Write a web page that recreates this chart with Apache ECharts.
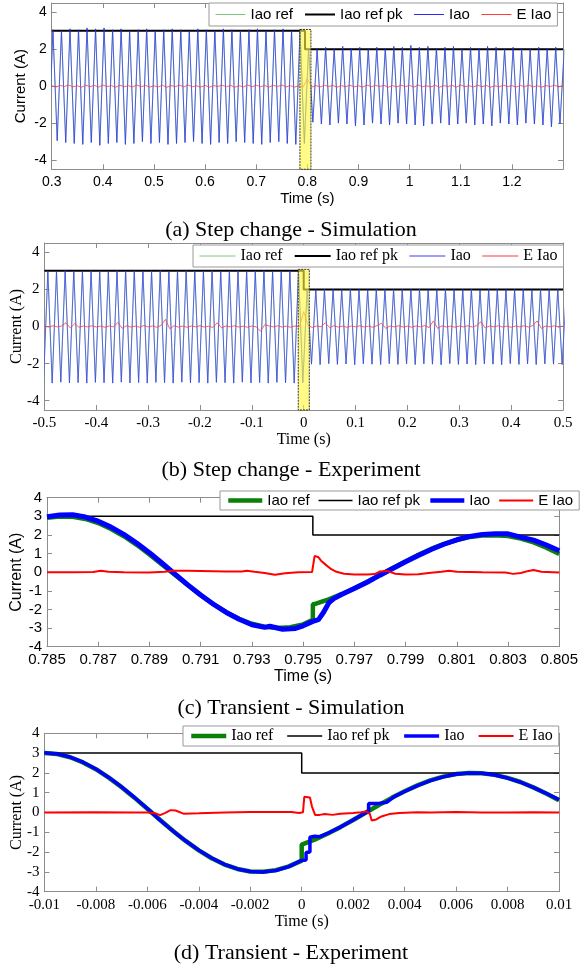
<!DOCTYPE html>
<html>
<head>
<meta charset="utf-8">
<script src="https://cdn.jsdelivr.net/npm/echarts@6/dist/echarts.min.js"></script>
<style>
html, body { margin: 0; padding: 0; background: #fff; }
#chart { width: 581px; height: 965px; }
</style>
</head>
<body>
<div id="chart"></div>
<script>
// half period of the 60 Hz current
var HALF = 1 / 120;

// ---- (a) Step change - Simulation ----
var aT0 = 0.2941;              // first trough, peaks follow half a period later
var aTroughs = [
  -3.00, -2.95, -3.05, -3.10, -3.15, -3.05, -3.20, -3.10, -3.05, -3.15,
  -3.10, -3.00, -3.10, -3.05, -3.15, -3.10, -3.05, -3.00, -3.10, -3.15,
  -3.05, -3.10, -3.00, -3.05, -3.10, -3.15, -3.05, -3.00, -3.10, -3.15,
  -3.10,
  -1.95, -2.05, -2.10, -2.00, -2.05, -2.15, -2.10, -2.00, -2.05, -2.10,
  -2.00, -2.05, -2.10, -2.15, -2.05, -2.00, -2.10, -2.05, -2.00, -2.10,
  -2.05, -2.15, -2.00, -2.05, -2.10, -2.00, -2.05, -2.10, -2.20, -2.05
];
var aPeaks = [
  3.05, 3.00, 3.10, 3.05, 3.15, 3.10, 3.15, 3.05, 3.10, 3.00,
  3.05, 3.10, 3.00, 3.05, 3.10, 3.05, 3.00, 3.10, 3.05, 3.00,
  3.10, 3.05, 3.00, 3.05, 3.10, 3.00, 3.05, 3.10, 3.00, 3.05,
  2.05, 2.00, 2.10, 2.00, 2.15, 2.05, 2.10, 2.00, 2.10, 2.05,
  2.15, 2.10, 2.20, 2.10, 2.15, 2.05, 2.10, 2.15, 2.00, 2.10,
  2.05, 2.15, 2.10, 2.00, 2.10, 2.05, 2.00, 2.10, 2.05, 2.10,
  2.00
];
var aErrT0 = 0.3;
var aErr = [
  0.03, -0.05, 0.04, -0.02, 0.06, -0.04, 0.02, -0.06, 0.05, -0.03,
  0.04, -0.05, 0.06, -0.02, 0.03, -0.06, 0.05, -0.03, 0.02, -0.04,
  0.06, -0.03, 0.04, -0.05, 0.02, -0.04, 0.05, -0.06, 0.03, -0.02,
  0.05, -0.04, 0.06, -0.03, 0.02, -0.05, 0.04, -0.06, 0.03, -0.02,
  0.05, -0.03, 0.04, -0.06, 0.02, -0.04, 0.06, -0.03, 0.05, -0.02,
  0.03, -0.05, 0.04, -0.02, 0.06, -0.04, 0.03, -0.05, 0.02, -0.06,
  0.40, -0.05, 0.03, -0.04, 0.05, -0.02, 0.04, -0.06, 0.03, -0.03,
  0.05, -0.04, 0.02, -0.05, 0.06, -0.03, 0.04, -0.02, 0.05, -0.06,
  0.03, -0.04, 0.05, -0.02, 0.04, -0.05, 0.06, -0.03, 0.02, -0.04,
  0.05, -0.06, 0.03, -0.02, 0.04, -0.05, 0.06, -0.03, 0.02, -0.04,
  0.05, -0.03, 0.04, -0.06, 0.02, -0.04, 0.05, -0.02, 0.03, -0.05,
  0.04, -0.03, 0.06, -0.04, 0.02, -0.05, 0.03, -0.02, 0.05, -0.04, 0.03
];
var aPkT = [0.3, 0.7954, 0.7954, 1.3];
var aPk = [3, 3, 2, 2];
var aBox = [0.7855, 0.807, 3.07, -4.5];
var aXLabels = [0.3, 0.4, 0.5, 0.6, 0.7, 0.8, 0.9, 1, 1.1, 1.2];
var abYLabels = [-4, -2, 0, 2, 4];

// ---- (b) Step change - Experiment ----
var bT0 = -0.50167;
var bTroughs = [
  -3.02, -3.05, -3.00, -3.04, -3.02, -3.05, -3.01, -3.03, -3.05, -3.00,
  -3.04, -3.02, -3.05, -3.01, -3.03, -3.05, -3.00, -3.04, -3.02, -3.05,
  -3.01, -3.03, -3.05, -3.00, -3.04, -3.02, -3.05, -3.01, -3.03, -3.05,
  -3.02,
  -2.03, -2.05, -2.00, -2.04, -2.02, -2.06, -2.01, -2.03, -2.05, -2.00,
  -2.04, -2.02, -2.05, -2.01, -2.03, -2.06, -2.00, -2.04, -2.02, -2.05,
  -2.01, -2.03, -2.06, -2.00, -2.04, -2.02, -2.05, -2.01, -2.03, -2.05
];
var bPeaks = [
  3.00, 2.98, 3.02, 3.00, 2.99, 3.01, 3.00, 2.98, 3.02, 3.00,
  3.01, 2.99, 3.00, 3.02, 2.98, 3.00, 3.01, 2.99, 3.00, 3.02,
  2.98, 3.00, 3.01, 2.99, 3.00, 3.02, 2.98, 3.00, 3.01, 3.00,
  2.00, 1.98, 2.01, 2.00, 1.99, 2.02, 2.00, 1.98, 2.01, 2.00,
  1.99, 2.01, 2.00, 2.02, 1.98, 2.00, 2.01, 1.99, 2.00, 2.02,
  1.98, 2.00, 2.01, 1.99, 2.00, 2.02, 1.98, 2.00, 2.01, 2.00,
  1.99
];
var bErrT0 = -0.5;
var bErr = [
  0.02, -0.03, 0.04, -0.02, 0.03, 0.20, -0.08, 0.15, -0.04, 0.03,
  -0.02, 0.04, -0.03, 0.02, -0.04, 0.03, -0.02, 0.22, -0.10, 0.04,
  -0.03, 0.02, -0.04, 0.05, -0.02, 0.03, -0.04, 0.06, 0.38, -0.12,
  0.04, -0.03, 0.02, -0.04, 0.03, -0.02, 0.04, -0.03, 0.02, -0.05,
  0.20, -0.08, 0.03, -0.02, 0.04, -0.03, 0.02, -0.04, 0.03, -0.02,
  -0.25, 0.10, 0.03, -0.02, 0.04, -0.03, 0.02, -0.04, 0.03, -0.02,
  0.80, 0.05, -0.05, 0.03, -0.02, 0.20, -0.06, 0.04, -0.03, 0.02,
  -0.04, 0.03, -0.02, 0.04, -0.03, 0.02, -0.04, 0.05, 0.18, -0.10,
  0.03, -0.02, 0.04, -0.03, 0.02, -0.04, 0.03, -0.02, 0.05, -0.06,
  0.30, -0.10, 0.04, -0.03, 0.02, -0.04, 0.03, -0.02, 0.04, -0.03,
  0.05, 0.25, -0.08, 0.03, -0.02, 0.04, -0.03, 0.02, -0.04, 0.03,
  -0.02, 0.04, -0.03, 0.05, 0.30, -0.10, 0.03, -0.02, 0.04, -0.03, 0.02
];
var bPkT = [-0.5, 0, 0, 0.5];
var bPk = [3, 3, 2, 2];
var bBox = [-0.0105, 0.0108, 3.08, -4.5];
var bXLabels = [-0.5, -0.4, -0.3, -0.2, -0.1, 0, 0.1, 0.2, 0.3, 0.4, 0.5];

// ---- (c) Transient - Simulation ----
var cRefT = [0.785, 0.7855, 0.786, 0.7865, 0.787, 0.7875, 0.788, 0.7885, 0.789, 0.7895,
  0.790, 0.7905, 0.791, 0.7915, 0.792, 0.7925, 0.793, 0.7935, 0.794, 0.7945,
  0.795, 0.79538, 0.79538, 0.7955, 0.796, 0.7965, 0.797, 0.7975, 0.798, 0.7985,
  0.799, 0.7995, 0.800, 0.8005, 0.801, 0.8015, 0.802, 0.8025, 0.803, 0.8035,
  0.804, 0.8045, 0.805];
var cRef = [2.92, 2.99, 2.98, 2.86, 2.64, 2.32, 1.93, 1.47, 0.95, 0.40,
  -0.15, -0.70, -1.23, -1.72, -2.15, -2.50, -2.77, -2.93, -2.99, -2.95,
  -2.80, -2.55, -1.72, -1.69, -1.46, -1.18, -0.86, -0.52, -0.15, 0.22,
  0.58, 0.93, 1.25, 1.52, 1.73, 1.89, 1.97, 1.99, 1.94, 1.81,
  1.60, 1.32, 0.98];
var cIaoT = [0.785, 0.7855, 0.786, 0.7865, 0.787, 0.7875, 0.788, 0.7885, 0.789, 0.7895,
  0.790, 0.7905, 0.791, 0.7915, 0.792, 0.7925, 0.793, 0.7935, 0.7937, 0.7942,
  0.7947, 0.795, 0.79538, 0.7956, 0.7958, 0.796, 0.7962, 0.7965, 0.797, 0.7975,
  0.798, 0.7985, 0.799, 0.7995, 0.800, 0.8005, 0.801, 0.8015, 0.802, 0.8025,
  0.803, 0.8035, 0.804, 0.8045, 0.805];
var cIao = [2.98, 3.07, 3.08, 2.96, 2.74, 2.42, 2.03, 1.57, 1.05, 0.48,
  -0.10, -0.68, -1.22, -1.72, -2.16, -2.53, -2.82, -2.96, -2.90, -3.06,
  -3.02, -2.88, -2.64, -2.55, -2.15, -1.65, -1.42, -1.20, -0.88, -0.54,
  -0.16, 0.20, 0.56, 0.90, 1.22, 1.50, 1.74, 1.92, 2.03, 2.06,
  2.06, 1.88, 1.72, 1.46, 1.15];
var cErrT = [0.785, 0.786, 0.7868, 0.7871, 0.7874, 0.788, 0.789, 0.7896, 0.7899, 0.7905,
  0.791, 0.792, 0.7926, 0.7928, 0.7931, 0.7935, 0.7939, 0.7943, 0.7948, 0.79535,
  0.79545, 0.7956, 0.7957, 0.7959, 0.7961, 0.7963, 0.7966, 0.797, 0.7975, 0.7978,
  0.798, 0.7983, 0.7986, 0.799, 0.7995, 0.7999, 0.8004, 0.8007, 0.801, 0.802,
  0.8029, 0.8032, 0.8035, 0.8038, 0.804, 0.8043, 0.805];
var cErr = [0, 0, 0.01, 0.08, 0.02, 0, -0.02, 0.02, 0.08, 0.08,
  0.07, 0.04, 0.04, 0.08, 0.02, -0.04, -0.14, -0.06, 0, 0.01,
  0.88, 0.80, 0.62, 0.38, 0.16, 0.02, -0.08, -0.12, -0.12, -0.10,
  0.04, 0.06, -0.08, -0.12, -0.11, -0.04, 0.02, 0.08, 0.03, 0,
  -0.02, -0.09, -0.04, 0.07, 0.12, 0.02, -0.02];
var cPkT = [0.785, 0.79538, 0.79538, 0.805];
var cPk = [3, 3, 2, 2];
var cXLabels = [0.785, 0.787, 0.789, 0.791, 0.793, 0.795, 0.797, 0.799, 0.801, 0.803, 0.805];
var cdYLabels = [-4, -3, -2, -1, 0, 1, 2, 3, 4];

// ---- (d) Transient - Experiment ----
var dRefT = [-0.01, -0.0095, -0.009, -0.0085, -0.008, -0.0075, -0.007, -0.0065, -0.006, -0.0055,
  -0.005, -0.0045, -0.004, -0.0035, -0.003, -0.0025, -0.002, -0.0015, -0.001, -0.0005,
  0, 0, 0.0005, 0.001, 0.0015, 0.002, 0.0025, 0.003, 0.0035, 0.004,
  0.0045, 0.005, 0.0055, 0.006, 0.0065, 0.007, 0.0075, 0.008, 0.0085, 0.009,
  0.0095, 0.01];
var dRef = [3.00, 2.95, 2.79, 2.53, 2.19, 1.76, 1.28, 0.75, 0.19, -0.38,
  -0.93, -1.45, -1.91, -2.31, -2.63, -2.85, -2.98, -2.99, -2.91, -2.72,
  -2.43, -1.62, -1.37, -1.07, -0.74, -0.38, 0.00, 0.38, 0.74, 1.07,
  1.37, 1.62, 1.81, 1.94, 2.00, 1.98, 1.90, 1.75, 1.54, 1.27,
  0.96, 0.62];
var dIaoT = [-0.01, -0.0095, -0.009, -0.0085, -0.008, -0.0075, -0.007, -0.0065, -0.006, -0.0056,
  -0.0052, -0.0048, -0.0045, -0.004, -0.0035, -0.003, -0.0025, -0.002, -0.0015, -0.001,
  -0.0005, 0, 0.00017, 0.00017, 0.00032, 0.00032, 0.0005, 0.0007, 0.001, 0.0015,
  0.002, 0.0025, 0.0026, 0.0026, 0.003, 0.0033, 0.0036, 0.004, 0.0045, 0.005,
  0.0055, 0.006, 0.0065, 0.007, 0.0075, 0.008, 0.0085, 0.009, 0.0095, 0.01];
var dIao = [3.02, 2.96, 2.80, 2.54, 2.20, 1.77, 1.29, 0.76, 0.20, -0.28,
  -0.72, -1.14, -1.44, -1.90, -2.30, -2.62, -2.85, -2.98, -3.01, -2.93,
  -2.73, -2.42, -2.40, -2.02, -2.00, -1.25, -1.20, -1.22, -1.06, -0.74,
  -0.38, 0.00, 0.04, 0.45, 0.45, 0.52, 0.80, 1.06, 1.36, 1.61,
  1.80, 1.93, 1.99, 1.98, 1.89, 1.74, 1.53, 1.27, 0.97, 0.65];
var dErrT = [-0.01, -0.008, -0.0065, -0.006, -0.0057, -0.0055, -0.0053, -0.0051, -0.0049, -0.0046,
  -0.004, -0.003, -0.002, -0.001, -0.0004, -0.0001, 0.00005, 0.0001, 0.00032, 0.0004,
  0.00052, 0.0007, 0.0009, 0.0012, 0.0015, 0.002, 0.0023, 0.00253, 0.00265, 0.00272,
  0.0029, 0.0031, 0.0034, 0.0038, 0.0045, 0.005, 0.006, 0.007, 0.008, 0.009,
  0.01];
var dErr = [0, 0.01, 0, 0, -0.04, -0.13, -0.02, 0.12, 0.10, -0.06,
  -0.04, 0, 0.02, 0.02, 0.03, -0.03, 0.01, 0.79, 0.76, 0.30,
  -0.12, -0.12, -0.08, -0.12, -0.06, -0.02, 0.01, 0.05, -0.08, -0.40,
  -0.35, -0.20, -0.08, -0.02, 0.01, 0, 0.02, 0, 0, 0.01,
  0];
var dPkT = [-0.01, 0, 0, 0.01];
var dPk = [3, 3, 2, 2];
var dXLabels = [-0.01, -0.008, -0.006, -0.004, -0.002, 0, 0.002, 0.004, 0.006, 0.008, 0.01];

var legendNames = ['Iao ref', 'Iao ref pk', 'Iao', 'E Iao'];

// ---------------------------------------------------------------
function pairs(xs, ys) {
  return xs.map(function (x, i) { return [x, ys[i]]; });
}
// trough, peak, trough, peak ... every half period
function zigzag(t0, troughs, peaks) {
  var out = [];
  for (var k = 0; k < troughs.length; k++) {
    out.push([t0 + 2 * k * HALF, troughs[k]]);
    if (k < peaks.length) out.push([t0 + (2 * k + 1) * HALF, peaks[k]]);
  }
  return out;
}
function grid(t0, vals) {
  return vals.map(function (v, i) { return [t0 + i * HALF, v]; });
}
function fmt(v) { return String(+(+v).toFixed(4)); }

var SANS = 'Liberation Sans', SERIF = 'Liberation Serif';
var FRAME = '#8c8c8c';
var grids = [], xAxes = [], yAxes = [], legends = [], series = [], graphics = [];

function addPanel(p) {
  var gi = grids.length;
  grids.push({ left: p.box[0], top: p.box[1], width: p.box[2], height: p.box[3] });
  var lbl = { fontFamily: p.font, fontSize: p.tick, color: '#000' };
  var nameStyle = { fontFamily: p.font, fontSize: p.name, color: '#000' };
  var line = { show: true, onZero: false, lineStyle: { color: FRAME, width: 1 } };
  var tick = function (vals) {
    return { show: true, inside: true, length: 5, customValues: vals, lineStyle: { color: FRAME } };
  };
  xAxes.push({
    type: 'value', gridIndex: gi, min: p.x[0], max: p.x[1], position: 'bottom',
    name: 'Time (s)', nameLocation: 'middle', nameGap: p.xGap, nameTextStyle: nameStyle,
    axisLine: line, axisTick: tick(p.xLabels),
    axisLabel: Object.assign({ customValues: p.xLabels, formatter: fmt, margin: 6 }, lbl),
    splitLine: { show: false }
  });
  xAxes.push({
    type: 'value', gridIndex: gi, min: p.x[0], max: p.x[1], position: 'top',
    axisLine: line, axisTick: tick(p.xLabels), axisLabel: { show: false }, splitLine: { show: false }
  });
  yAxes.push({
    type: 'value', gridIndex: gi, min: p.y[0], max: p.y[1], position: 'left',
    name: 'Current (A)', nameLocation: 'middle', nameRotate: 90, nameGap: p.yGap,
    nameMoveOverlap: false, nameTextStyle: nameStyle,
    axisLine: line, axisTick: tick(p.yLabels),
    axisLabel: Object.assign({ customValues: p.yLabels, formatter: fmt, margin: 5 }, lbl),
    splitLine: { show: false }
  });
  yAxes.push({
    type: 'value', gridIndex: gi, min: p.y[0], max: p.y[1], position: 'right',
    axisLine: line, axisTick: tick(p.yLabels), axisLabel: { show: false }, splitLine: { show: false }
  });

  var ax = 2 * gi;
  var tag = '|' + p.id;
  var styles = p.styles;
  var datas = [p.ref, p.pk, p.iao, p.err];
  legendNames.forEach(function (n, i) {
    series.push({
      type: 'line', name: n + tag, xAxisIndex: ax, yAxisIndex: ax, data: datas[i],
      symbol: 'none', silent: true, animation: false, clip: true, z: 2 + i,
      lineStyle: { color: styles[i][0], width: styles[i][1] },
      itemStyle: { color: styles[i][0] }
    });
  });
  if (p.boxData) {
    series.push({
      type: 'custom', xAxisIndex: ax, yAxisIndex: ax, silent: true, animation: false, z: 8,
      data: [p.boxData],
      renderItem: function (params, api) {
        var p0 = api.coord([api.value(0), api.value(2)]);
        var p1 = api.coord([api.value(1), api.value(3)]);
        return {
          type: 'rect',
          shape: { x: p0[0], y: p0[1], width: p1[0] - p0[0], height: p1[1] - p0[1] },
          style: { fill: 'rgba(255,248,60,0.62)', stroke: '#333', lineWidth: 1, lineDash: [2, 1] }
        };
      }
    });
  }
  legends.push({
    left: p.leg[0], top: p.leg[1], itemWidth: p.leg[2], itemHeight: 10, itemGap: p.leg[3],
    padding: p.leg[4], selectedMode: false,
    borderColor: '#999', borderWidth: 1, borderRadius: 0, backgroundColor: '#fff',
    itemStyle: { opacity: 0, borderWidth: 0 },
    textStyle: { fontFamily: p.font, fontSize: p.legFont, color: '#000' },
    formatter: function (n) { return n.split('|')[0]; },
    data: legendNames.map(function (n, i) {
      return { name: n + tag, itemStyle: { opacity: 0, borderWidth: 0 }, lineStyle: { width: p.legW[i] } };
    })
  });
  graphics.push({
    type: 'text', x: 291, y: p.capY, silent: true,
    style: { text: p.caption, font: '22px "Liberation Serif"', fill: '#000', textAlign: 'center', textVerticalAlign: 'middle' }
  });
}

var aWave = zigzag(aT0, aTroughs, aPeaks);
var bWave = zigzag(bT0, bTroughs, bPeaks);

addPanel({
  id: 'a', box: [51.7, 3, 511.3, 166.3], x: [0.3, 1.3], y: [-4.5, 4.5],
  xLabels: aXLabels, yLabels: abYLabels, font: SANS, tick: 14, name: 15, xGap: 22, yGap: 23,
  ref: aWave, pk: pairs(aPkT, aPk), iao: aWave, err: grid(aErrT0, aErr), boxData: aBox,
  styles: [['#7fc47f', 0.8], ['#000', 2], ['#2b2bff', 0.7], ['#ff3b3b', 0.8]],
  leg: [209, 3, 30, 11, [4, 6]], legFont: 15, legW: [1, 2, 1, 1],
  caption: '(a) Step change - Simulation', capY: 230
});
addPanel({
  id: 'b', box: [44.4, 243, 518.6, 167], x: [-0.5, 0.5], y: [-4.5, 4.5],
  xLabels: bXLabels, yLabels: abYLabels, font: SERIF, tick: 15, name: 16, xGap: 22, yGap: 20,
  ref: bWave, pk: pairs(bPkT, bPk), iao: bWave, err: grid(bErrT0, bErr), boxData: bBox,
  styles: [['#7fc47f', 0.8], ['#000', 2], ['#3a3aff', 0.7], ['#ff3b3b', 0.8]],
  leg: [193, 245, 36, 11, [3, 6]], legFont: 16, legW: [1, 2, 1, 1],
  caption: '(b) Step change - Experiment', capY: 470
});
addPanel({
  id: 'c', box: [47, 497.7, 513, 149], x: [0.785, 0.805], y: [-4, 4],
  xLabels: cXLabels, yLabels: cdYLabels, font: SANS, tick: 15, name: 16, xGap: 22, yGap: 22,
  ref: pairs(cRefT, cRef), pk: pairs(cPkT, cPk), iao: pairs(cIaoT, cIao), err: pairs(cErrT, cErr),
  styles: [['#0a800a', 4.5], ['#000', 1.5], ['#0000ff', 5], ['#ff0000', 2]],
  leg: [220, 491, 34, 8, [2, 6]], legFont: 15, legW: [4.5, 1.5, 4.5, 2],
  caption: '(c) Transient - Simulation', capY: 708
});
addPanel({
  id: 'd', box: [44.4, 733.3, 514.6, 158.4], x: [-0.01, 0.01], y: [-4, 4],
  xLabels: dXLabels, yLabels: cdYLabels, font: SERIF, tick: 15, name: 16, xGap: 22, yGap: 20,
  ref: pairs(dRefT, dRef), pk: pairs(dPkT, dPk), iao: pairs(dIaoT, dIao), err: pairs(dErrT, dErr),
  styles: [['#0a800a', 4.5], ['#000', 1.5], ['#0000ff', 3.5], ['#ff0000', 2]],
  leg: [183, 726, 35, 13, [2, 6]], legFont: 16, legW: [4.5, 1.5, 3.5, 2],
  caption: '(d) Transient - Experiment', capY: 953
});

var chart = echarts.init(document.getElementById('chart'), null, { renderer: 'canvas' });
chart.setOption({
  animation: false,
  backgroundColor: '#fff',
  grid: grids,
  xAxis: xAxes,
  yAxis: yAxes,
  legend: legends,
  series: series,
  graphic: graphics
});
</script>
</body>
</html>
